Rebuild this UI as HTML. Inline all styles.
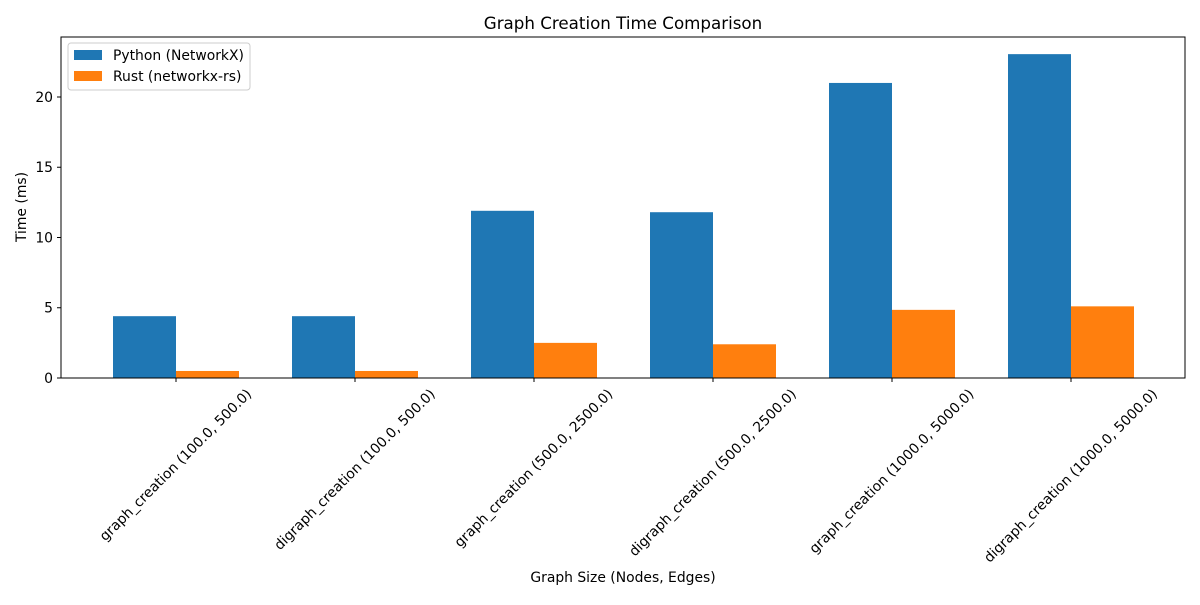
<!DOCTYPE html>
<html><head><meta charset="utf-8"><style>body{margin:0;background:#fff}svg{font-family:"DejaVu Sans","Liberation Sans",sans-serif}</style></head>
<body>
<svg id="chart" width="1200" height="600" xmlns="http://www.w3.org/2000/svg">
<rect width="1200" height="600" fill="#fff"/>
<text x="623" y="29" text-anchor="middle" font-size="16.7">Graph Creation Time Comparison</text>
<g id="plot"></g>
<text x="623" y="582" text-anchor="middle" font-size="13.9">Graph Size (Nodes, Edges)</text>
<text transform="translate(26,207) rotate(-90)" text-anchor="middle" font-size="13.9">Time (ms)</text>
<g>
<rect x="68" y="43" width="182" height="47" fill="#fff" stroke="#ccc" rx="3"/>
<rect x="74" y="50" width="28" height="10" fill="#1f77b4"/>
<text x="113" y="60" font-size="13.9">Python (NetworkX)</text>
<rect x="74" y="71" width="28" height="10" fill="#ff7f0e"/>
<text x="113" y="81" font-size="13.9">Rust (networkx-rs)</text>
</g>
</svg>
<script>
const categories = ["graph_creation (100.0, 500.0)","digraph_creation (100.0, 500.0)","graph_creation (500.0, 2500.0)","digraph_creation (500.0, 2500.0)","graph_creation (1000.0, 5000.0)","digraph_creation (1000.0, 5000.0)"];
const pythonValues = [4.4, 4.4, 11.9, 11.8, 21.0, 23.05];
const rustValues = [0.5, 0.5, 2.5, 2.4, 4.85, 5.1];
const yTicks = [0, 5, 10, 15, 20];

const L=61,R=1185,T=37,B=378,yMax=24.27;
const y=v=>B-(v/yMax)*(B-T);
const x=i=>176+179*i;
const bw=63;
const NS="http://www.w3.org/2000/svg";
const g=document.getElementById('plot');
function mk(t,a){const e=document.createElementNS(NS,t);for(const k in a)e.setAttribute(k,a[k]);g.appendChild(e);return e;}
categories.forEach((c,i)=>{
  const p=mk('rect',{x:x(i)-bw,y:y(pythonValues[i]),width:bw,height:B-y(pythonValues[i]),fill:'#1f77b4'});
  
  
  const r=mk('rect',{x:x(i),y:y(rustValues[i]),width:bw,height:B-y(rustValues[i]),fill:'#ff7f0e'});
  
  
  mk('line',{x1:x(i),x2:x(i),y1:B,y2:B+4,stroke:'#000'});
  const t=mk('text',{'text-anchor':'middle','dominant-baseline':'central','font-size':13.9});
  t.textContent=c;
  
  
  const w=t.getComputedTextLength();
  const cy=B+9+(w+14)/Math.SQRT2/2;
  t.setAttribute('x',x(i));t.setAttribute('y',cy);
  t.setAttribute('transform',`rotate(-45 ${x(i)} ${cy})`);
});
yTicks.forEach(v=>{
  mk('line',{x1:L-4,x2:L,y1:y(v),y2:y(v),stroke:'#000'});
  const t=mk('text',{x:L-8,y:y(v)+5,'text-anchor':'end','font-size':13.9});
  t.textContent=v;
  
  
});
const f=mk('rect',{x:L,y:T,width:R-L,height:B-T,fill:'none',stroke:'#000','stroke-width':1});


</script>
</body></html>
